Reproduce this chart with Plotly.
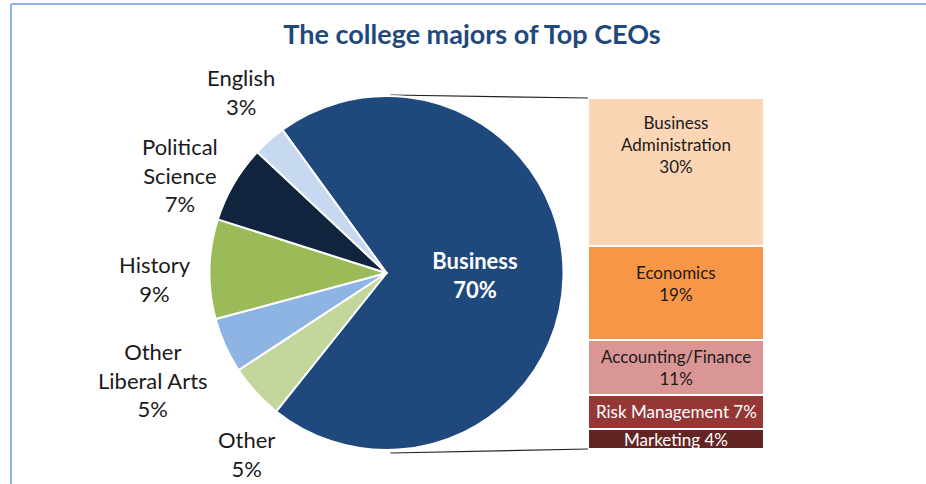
import math
import plotly.graph_objects as go

# Pie: share of top CEOs by college major (clockwise from the Business slice)
majors = ["Business", "Other", "Other Liberal Arts", "History", "Political Science", "English"]
major_text = ["Business", "Other", "Other<br>Liberal Arts", "History", "Political<br>Science", "English"]
major_pct = [70, 5, 5, 9, 7, 3]
major_colors = ["#1F497D", "#C3D69B", "#8DB4E2", "#9BBB59", "#10243E", "#C6D9F1"]

# Bar: breakdown of the Business slice (top to bottom)
biz_fields = ["Business Administration", "Economics", "Accounting/Finance", "Risk Management", "Marketing"]
biz_text = ["Business<br>Administration", "Economics", "Accounting/Finance", "Risk Management", "Marketing"]
biz_pct = [30, 19, 11, 7, 4]
biz_colors = ["#FCD5B5", "#F79646", "#DA9694", "#953735", "#632523"]
biz_font_colors = ["#1a1a1a", "#1a1a1a", "#1a1a1a", "white", "white"]
biz_sep = ["<br>", "<br>", "<br>", " ", " "]

W, H = 926, 484
FONT = "Lato"

# pie geometry in pixels
cx, cy, r = 386.5, 273.0, 177.0
pie_x = [(cx - r) / W, (cx + r) / W]
pie_y = [(H - cy - r) / H, (H - cy + r) / H]
rotation = -36  # clockwise from 12 o'clock where the first slice starts

# outer label placement: distance of label centre from pie centre and angular nudge
label_dist = [None, 229, 257, 232, 229, 232]
label_nudge = [None, 10.0, 0.4, 2.8, 5.0, -2.6]

# bar geometry in pixels
bx0, bx1, by_top, by_bot = 588.0, 764.0, 98.0, 449.0

fig = go.Figure()

fig.add_trace(go.Pie(
    labels=majors,
    values=major_pct,
    text=major_text,
    texttemplate=["%{text}<br>%{value}%"] + [""] * (len(majors) - 1),
    textposition=["inside"] + ["none"] * (len(majors) - 1),
    insidetextfont=dict(family=FONT, size=22, color="white", weight="bold"),
    insidetextorientation="horizontal",
    marker=dict(colors=major_colors, line=dict(color="white", width=2)),
    sort=False,
    direction="clockwise",
    rotation=rotation,
    domain=dict(x=pie_x, y=pie_y),
    showlegend=False,
    hoverinfo="label+percent",
))

annotations = []

# labels for the small slices, placed along each slice's mid angle
total = sum(major_pct)
start = 90 - rotation  # math angle (deg, counter-clockwise from +x)
cum = 0.0
for i, (txt, v) in enumerate(zip(major_text, major_pct)):
    mid = start - (cum + v / 2) * 360 / total
    cum += v
    if label_dist[i] is None:
        continue
    a = math.radians(mid + label_nudge[i])
    px = cx + label_dist[i] * math.cos(a)
    py = cy - label_dist[i] * math.sin(a)
    annotations.append(dict(
        x=px / W, y=(H - py) / H, xref="paper", yref="paper",
        xanchor="center", yanchor="middle", showarrow=False,
        text=f"{txt}<br>{v}%", align="center",
        font=dict(family=FONT, size=22, color="#1a1a1a"),
    ))

# stack from the bottom up so the first field sits on top
for name, txt, v, c, fc, sep in reversed(list(zip(biz_fields, biz_text, biz_pct, biz_colors,
                                                   biz_font_colors, biz_sep))):
    fig.add_trace(go.Bar(
        x=[0], y=[v], name=name,
        marker=dict(color=c, line=dict(color="white", width=2)),
        width=1, showlegend=False, hoverinfo="name+y",
    ))

# bar labels: tall segments carry the label near their top, short ones centred
label_drop = [12, 14, None, None, None]
top = sum(biz_pct)
for txt, v, fc, sep, drop in zip(biz_text, biz_pct, biz_font_colors, biz_sep, label_drop):
    if drop is None:
        y, anchor, shift = top - v / 2, "middle", 0
    else:
        y, anchor, shift = top, "top", -drop
    annotations.append(dict(
        x=0, y=y, xref="x", yref="y", xanchor="center", yanchor=anchor, yshift=shift,
        showarrow=False, text=f"{txt}{sep}{v}%", align="center",
        font=dict(family=FONT, size=17, color=fc),
    ))
    top -= v

shapes = [
    # connector lines from the pie to the bar
    dict(type="line", xref="paper", yref="paper",
         x0=(cx + 4) / W, y0=(H - (cy - r) + 1) / H, x1=bx0 / W, y1=(H - by_top) / H,
         line=dict(color="#222222", width=1.2), layer="below"),
    dict(type="line", xref="paper", yref="paper",
         x0=(cx + 4) / W, y0=(H - (cy + r) - 3) / H, x1=bx0 / W, y1=(H - by_bot) / H,
         line=dict(color="#222222", width=1.2), layer="below"),
    # frame edges
    dict(type="line", xref="paper", yref="paper", x0=11 / W, y0=(H - 4) / H, x1=1, y1=(H - 4) / H,
         line=dict(color="#8DB4E2", width=2)),
    dict(type="line", xref="paper", yref="paper", x0=11 / W, y0=(H - 4) / H, x1=11 / W, y1=0,
         line=dict(color="#8DB4E2", width=2)),
]

fig.update_layout(
    width=W, height=H,
    margin=dict(l=0, r=0, t=0, b=0),
    paper_bgcolor="white", plot_bgcolor="white",
    barmode="stack", bargap=0,
    title=dict(text="<b>The college majors of Top CEOs</b>", x=472 / W, xanchor="center",
               y=(H - 35) / H, yanchor="middle",
               font=dict(family=FONT, size=27, color="#1F497D")),
    xaxis=dict(domain=[bx0 / W, bx1 / W], range=[-0.5, 0.5], visible=False, fixedrange=True),
    yaxis=dict(domain=[(H - by_bot) / H, (H - by_top) / H], range=[0, sum(biz_pct)],
               visible=False, fixedrange=True),
    shapes=shapes,
    annotations=annotations,
)

fig.write_html("out.html")
